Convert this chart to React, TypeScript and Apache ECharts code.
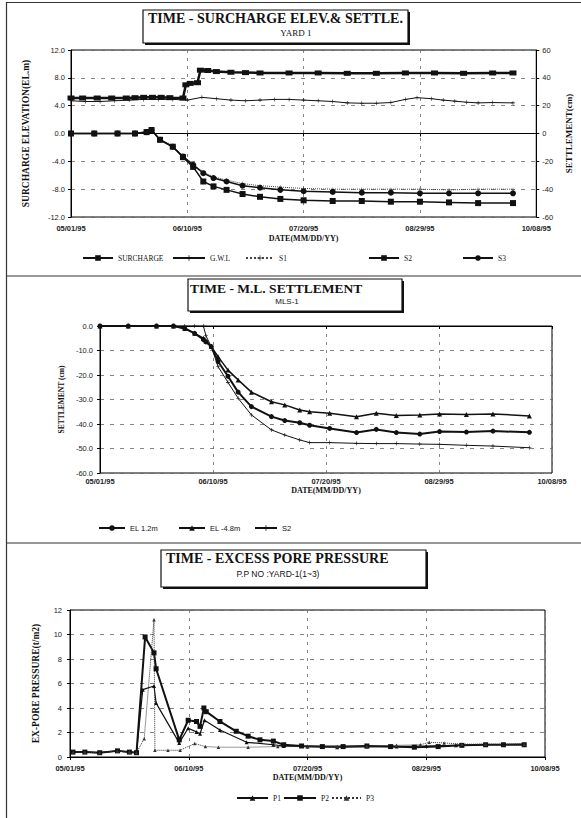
import React, { useEffect, useRef } from 'react';
import * as echarts from 'echarts';

// ---------- shared tick labels ----------
const dateTicks = ['05/01/95', '06/10/95', '07/20/95', '08/29/95', '10/08/95'];

// ---------- Panel 1: surcharge elevation & settlement ----------
const surchargeDays = [0, 4, 9, 14, 19, 22, 25, 28, 31, 34, 38.5, 39.5, 41, 43.5, 44.5, 47, 50, 55, 60, 65, 75, 85, 95, 105, 115, 125, 135, 145, 152];
const surchargeElev = [5.1, 5.1, 5.1, 5.1, 5.1, 5.15, 5.2, 5.2, 5.2, 5.15, 5.1, 7.0, 7.2, 7.3, 9.1, 9.05, 8.9, 8.8, 8.75, 8.7, 8.7, 8.7, 8.65, 8.65, 8.7, 8.7, 8.65, 8.7, 8.7];

const gwlDays = [0, 5, 10, 15, 20, 25, 30, 35, 40, 45, 50, 55, 60, 65, 70, 75, 80, 85, 90, 95, 100, 105, 110, 115, 119, 124, 128, 132, 136, 140, 145, 152];
const gwlElev = [4.7, 4.6, 4.6, 4.7, 4.8, 4.9, 4.9, 4.9, 4.8, 5.2, 5.0, 4.8, 4.7, 4.8, 4.9, 4.9, 4.8, 4.7, 4.6, 4.4, 4.35, 4.35, 4.45, 4.9, 5.15, 5.0, 4.8, 4.65, 4.5, 4.4, 4.45, 4.4];

const settleDays = [0, 8, 16, 22, 26, 27.7, 30.6, 35, 38.5, 42, 45.5, 49, 53.5, 59, 65, 72, 80, 90, 100, 110, 120, 130, 140, 152];
const settleS1 = [0, 0, 0, 0, 1, 2.5, -4.5, -9.5, -16, -22, -28, -31, -33.5, -36, -37.5, -38.5, -39.5, -40, -40, -40, -40, -40.5, -40, -40];
const settleS2 = [0, 0, 0, 0, 1, 2.5, -4.5, -9.5, -17, -24, -34.5, -38, -40.5, -43.5, -45.5, -47, -48, -48.5, -48.5, -49, -49, -49.5, -50, -50];
const settleS3 = [0, 0, 0, 0, 1, 2.5, -4.5, -9.5, -16.5, -22.5, -28.5, -32, -34.5, -37.5, -39, -40.5, -41.5, -42, -42.5, -42.5, -43, -43, -43, -43];

// ---------- Panel 2: multi-level settlement MLS-1 ----------
const mlsDays = [0, 10, 20, 26, 30, 33.5, 36.6, 37.5, 39.4, 41.8, 45.3, 48.9, 53.6, 60.7, 65.4, 70.7, 74.2, 81.3, 90.8, 97.8, 104.9, 113.2, 120.2, 129.7, 139.1, 152];
const mlsEL12 = [0, 0, 0, 0, -1, -3, -5.5, -6.5, -8.4, -14.5, -20.5, -27, -32.9, -37, -38.6, -39.5, -40.5, -41.8, -43.5, -42.2, -43.5, -44.1, -43.1, -43.3, -42.9, -43.4];
const mlsEL48 = [0, 0, 0, 0, -1, -3, -5, -6, -8.4, -12.5, -18, -22, -27, -30.9, -32.2, -34.3, -35, -35.6, -37, -35.6, -36.5, -36.3, -35.9, -36.1, -35.9, -36.7];
const mlsS2 = [0, 0, 0, 0, 0, 0, 0, -4, -8.4, -16.6, -23, -29.5, -36.3, -42.4, -44.5, -46.5, -47.6, -47.6, -47.9, -48, -48, -48.2, -48.3, -48.7, -49, -49.7];

// ---------- Panel 3: excess pore pressure ----------
const p1Days = [1, 5, 10, 16, 20, 22.4, 24.5, 28.3, 29, 36.8, 39.8, 42.6, 43.8, 45.3, 50.5, 59.5, 68.5, 72, 80, 90, 100, 110, 120, 130, 140, 153];
const p1Vals = [0.4, 0.4, 0.35, 0.5, 0.4, 0.35, 5.5, 5.8, 4.4, 1.15, 2.35, 2.05, 1.9, 3.0, 2.2, 1.2, 1.0, 0.9, 0.85, 0.8, 0.85, 0.85, 0.9, 0.95, 1.0, 1.05];
const p2Days = [1, 5, 10, 16, 20, 22.4, 25.3, 28.3, 29, 36.8, 39.8, 42.6, 43.8, 45.1, 45.9, 50.5, 56, 60, 64, 68.5, 72, 78, 85, 92, 100, 108, 116, 124, 132, 140, 146, 153];
const p2Vals = [0.4, 0.4, 0.35, 0.5, 0.4, 0.35, 9.8, 8.5, 7.2, 1.4, 3.0, 2.9, 2.5, 4.0, 3.7, 2.9, 2.1, 1.7, 1.4, 1.3, 1.0, 0.9, 0.85, 0.85, 0.9, 0.85, 0.8, 0.85, 0.95, 1.0, 1.0, 1.0];
const p3Days = [1, 5, 10, 16, 20, 22.4, 25, 28.3, 28.6, 33, 37.1, 42, 45.6, 50, 60, 70, 80, 90, 100, 110, 118, 121, 126, 132, 140, 153];
const p3Vals = [0.4, 0.4, 0.35, 0.5, 0.4, 0.35, 1.5, 11.2, 0.55, 0.55, 0.55, 1.1, 0.85, 0.8, 0.8, 0.85, 0.85, 0.85, 0.9, 0.95, 1.0, 1.2, 1.15, 1.05, 1.05, 1.05];

const INK = '#111';
const CROSS = 'path://M0 4.3H10V5.7H0Z M4.3 0H5.7V10H4.3Z';

function zip(days: number[], vals: number[]) {
  return days.map((d, i) => [d, vals[i]]);
}

function xAx(gridIndex: number, margin: number, nameGap: number) {
  return {
    type: 'value', gridIndex, min: 0, max: 160, interval: 40,
    axisLine: { show: true, lineStyle: { color: '#000', width: 1 } },
    axisTick: { show: true, length: 3, lineStyle: { color: '#000' } },
    axisLabel: {
      formatter: (v: number) => dateTicks[Math.round(v / 40)] ?? '',
      fontSize: 7.5, fontWeight: 'bold', color: '#222', fontFamily: 'Liberation Sans', margin,
      showMinLabel: true, showMaxLabel: true,
    },
    splitLine: { show: true, lineStyle: { color: '#666', type: [3, 5], width: 0.8 } },
    name: 'DATE(MM/DD/YY)', nameLocation: 'middle', nameGap,
    nameTextStyle: { fontFamily: 'Liberation Serif', fontWeight: 'bold', fontSize: 8, color: INK },
  };
}

function yAx(gridIndex: number, min: number, max: number, interval: number, fmt: (v: number) => string,
  name: string, nameGap: number, nameSize: number, margin: number, position = 'left', split = true) {
  return {
    type: 'value', gridIndex, min, max, interval, position,
    axisLine: { show: true, lineStyle: { color: '#000', width: 1 } },
    axisTick: { show: true, length: 3, lineStyle: { color: '#000' } },
    axisLabel: { formatter: fmt, fontSize: 7.5, color: '#222', fontFamily: 'Liberation Sans', margin },
    splitLine: { show: split, lineStyle: { color: '#666', type: [4, 6], width: 0.8 } },
    name, nameLocation: 'middle', nameGap,
    nameTextStyle: { fontFamily: 'Liberation Serif', fontWeight: 'bold', fontSize: nameSize, color: INK },
  };
}

function ser(name: string, days: number[], vals: number[], xi: number, yi: number,
  symbol: string, symbolSize: any, width: number, type: any = 'solid', color = INK) {
  return {
    type: 'line', name, xAxisIndex: xi, yAxisIndex: yi, data: zip(days, vals),
    symbol, symbolSize, showAllSymbol: true,
    lineStyle: { color, width, type },
    itemStyle: { color, borderWidth: 0 },
    emphasis: { disabled: true },
  };
}

function leg(name: string, left: number, top: number, itemWidth: number, font: string, label?: string) {
  return {
    data: [name], left, top, itemWidth, itemHeight: 7, selectedMode: false,
    formatter: label ? () => label : undefined,
    textStyle: { fontSize: 7.5, color: INK, fontFamily: font, padding: [0, 0, 0, 0] },
    padding: 0,
  };
}

function txt(text: string, x: number, y: number, size: number, family: string, weight = 'normal', align = 'left') {
  return {
    type: 'text', silent: true,
    style: {
      text, x, y, fill: INK, fontSize: size, fontFamily: family, fontWeight: weight,
      textAlign: align, align, textVerticalAlign: 'middle', verticalAlign: 'middle',
    },
  };
}

function box(x: number, y: number, w: number, h: number) {
  return [
    { type: 'rect', silent: true, shape: { x: x + 2, y: y + 2, width: w, height: h }, style: { fill: INK } },
    { type: 'rect', silent: true, shape: { x, y, width: w, height: h }, style: { fill: '#fff', stroke: INK, lineWidth: 1.2 } },
  ];
}

function hline(x1: number, y: number, x2: number) {
  return { type: 'line', silent: true, shape: { x1, y1: y, x2, y2: y }, style: { stroke: '#333', lineWidth: 1.2 } };
}

export default function App() {
  const ref = useRef<HTMLDivElement>(null);
  useEffect(() => {
    document.body.style.margin = '0';
    const chart = echarts.init(ref.current!, null, { renderer: 'svg' });
    const gridStyle = { show: true, borderColor: '#000', borderWidth: 1, backgroundColor: 'transparent' };
    const option: any = {
      animation: false,
      backgroundColor: '#fff',
      grid: [
        { left: 71, top: 50, width: 466, height: 167, ...gridStyle },
        { left: 100, top: 326, width: 452, height: 147, ...gridStyle },
        { left: 70, top: 610, width: 475, height: 147, ...gridStyle },
      ],
      xAxis: [xAx(0, 7, 17), xAx(1, 4, 13), xAx(2, 7, 16)],
      yAxis: [
        yAx(0, -12, 12, 4, (v) => v.toFixed(1), 'SURCHARGE ELEVATION(EL.m)', 40, 9.5, 6),
        yAx(0, -60, 60, 20, (v) => String(v), 'SETTLEMENT(cm)', 24, 9, 6, 'right', false),
        yAx(1, -60, 0, 10, (v) => v.toFixed(1), 'SETTLEMENT (cm)', 31, 7.5, 7),
        yAx(2, 0, 12, 2, (v) => String(v), 'EX-PORE PRESSURE(t/m2)', 29, 9.5, 8),
      ],
      legend: [
        leg('SURCHARGE', 82, 254, 30, 'Liberation Serif'),
        leg('G.W.L', 172, 254, 32, 'Liberation Serif'),
        leg('S1', 245, 254, 28, 'Liberation Serif'),
        leg('S2', 368, 254, 30, 'Liberation Serif'),
        leg('S3', 462, 254, 30, 'Liberation Serif'),
        leg('EL 1.2m', 98, 524, 26, 'Liberation Sans'),
        leg('EL -4.8m', 178, 524, 26, 'Liberation Sans'),
        leg('S2 (MLS-1)', 254, 524, 22, 'Liberation Sans', 'S2'),
        leg('P1', 236, 794, 31, 'Liberation Serif'),
        leg('P2', 283, 794, 32, 'Liberation Serif'),
        leg('P3', 331, 794, 29, 'Liberation Serif'),
      ],
      series: [
        ser('SURCHARGE', surchargeDays, surchargeElev, 0, 0, 'rect', [7, 5], 2.5),
        ser('G.W.L', gwlDays, gwlElev, 0, 0, CROSS, 4, 1),
        ser('S1', settleDays, settleS1, 0, 1, CROSS, 3.5, 1, 'dotted', '#444'),
        ser('S2', settleDays, settleS2, 0, 1, 'rect', 6, 1.5),
        ser('S3', settleDays, settleS3, 0, 1, 'circle', 6, 1.5),
        ser('EL 1.2m', mlsDays, mlsEL12, 1, 2, 'circle', 5, 2),
        ser('EL -4.8m', mlsDays, mlsEL48, 1, 2, 'triangle', 5, 1.5),
        ser('S2 (MLS-1)', mlsDays, mlsS2, 1, 2, CROSS, 4, 1),
        ser('P1', p1Days, p1Vals, 2, 3, 'triangle', 4, 1.2),
        ser('P2', p2Days, p2Vals, 2, 3, 'rect', 5, 2),
        ser('P3', p3Days, p3Vals, 2, 3, 'triangle', 3.5, 1, 'dotted', '#333'),
      ],
      graphic: [
        hline(6, 2.5, 581),
        { type: 'line', silent: true, shape: { x1: 6.5, y1: 2, x2: 6.5, y2: 818 }, style: { stroke: '#333', lineWidth: 1.2 } },
        hline(6, 276, 581),
        hline(6, 543, 581),
        ...box(143, 10, 265, 33),
        txt('TIME - SURCHARGE ELEV.& SETTLE.', 148, 18.5, 14, 'Liberation Serif', 'bold'),
        txt('YARD 1', 296, 32.5, 9, 'Liberation Serif', 'normal', 'center'),
        ...box(188, 279, 214, 32),
        txt('TIME - M.L. SETTLEMENT', 190, 288.5, 13.5, 'Liberation Serif', 'bold'),
        txt('MLS-1', 287, 301.5, 8, 'Liberation Sans', 'normal', 'center'),
        ...box(161, 550, 265, 37),
        txt('TIME - EXCESS PORE PRESSURE', 166, 558, 14, 'Liberation Serif', 'bold'),
        txt('P.P NO :YARD-1(1~3)', 278, 574, 8.5, 'Liberation Sans', 'normal', 'center'),
      ],
    };
    chart.setOption(option);
    return () => chart.dispose();
  }, []);
  return <div ref={ref} style={{ width: 581, height: 818, background: '#fff' }} />;
}
